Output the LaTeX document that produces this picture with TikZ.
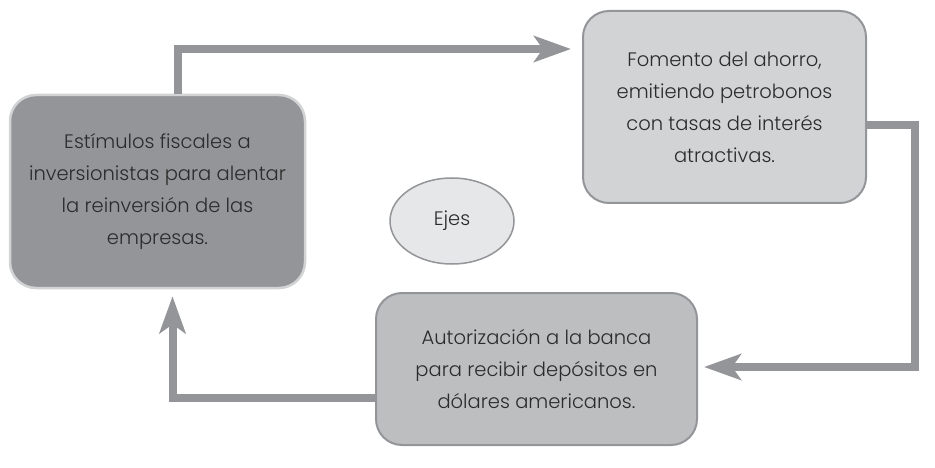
\documentclass[tikz,border=0pt]{standalone}
\usepackage{fontspec}
\setmainfont{Poppins}[UprightFont=* Light]
\usetikzlibrary{arrows.meta,shapes.geometric}
\definecolor{gA}{HTML}{939598}
\definecolor{gB}{HTML}{D1D3D4}
\definecolor{gC}{HTML}{BCBEC0}
\definecolor{gE}{HTML}{E6E7E8}
\definecolor{txt}{HTML}{2B2B2B}
\tikzset{
  box/.style={rounded corners=26pt, align=center, text=txt, inner sep=0pt,
    font=\fontsize{19.5}{32}\selectfont},
  conn/.style={draw=gA, line width=8pt,
    -{Stealth[length=37pt,width=26pt,inset=9pt]}}
}
\begin{document}
\begin{tikzpicture}[x=1pt,y=-1pt]
\useasboundingbox (0,0) rectangle (935,468);
\node[box, fill=gA, draw=gB, line width=2.5pt, minimum width=295pt, minimum height=193pt]
  (A) at (157.5,191.5) {Estímulos fiscales a\\inversionistas para alentar\\la reinversión de las\\empresas.};
\node[box, fill=gB, draw=gA, line width=2pt, minimum width=283pt, minimum height=192pt]
  (B) at (724.5,107) {Fomento del ahorro,\\emitiendo petrobonos\\con tasas de interés\\atractivas.};
\node[box, fill=gC, draw=gA, line width=2pt, minimum width=321pt, minimum height=152pt]
  (C) at (536.5,369) {Autorización a la banca\\para recibir depósitos en\\dólares americanos.};
\node[ellipse, fill=gE, draw=gA, line width=1.5pt, minimum width=124pt, minimum height=86pt,
  text=txt, font=\fontsize{19.5}{22}\selectfont] (E) at (452,221) {Ejes};
\draw[conn, shorten >=11pt] ([xshift=20.5pt]A.north) |- ([yshift=58pt]B.west);
\draw[conn, shorten >=6pt] ([yshift=-18pt]B.east) -- ++(48,0) |- ([yshift=2pt]C.east);
\draw[conn, shorten >=7pt] ([yshift=-29pt]C.west) -| ([xshift=15pt]A.south);
\end{tikzpicture}
\end{document}
